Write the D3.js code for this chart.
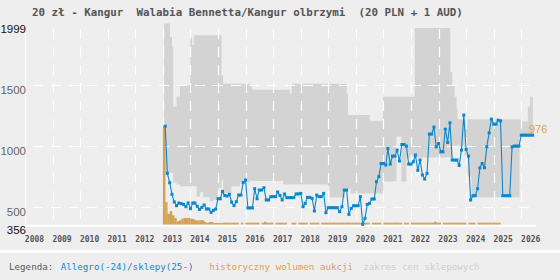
<!DOCTYPE html>
<html><head><meta charset="utf-8">
<script src="https://cdn.jsdelivr.net/npm/d3@7"></script>
<style>html,body{margin:0;padding:0;background:#eeeeee;}svg{display:block}</style>
</head><body>
<svg id="c" width="560" height="280"></svg>
<script>
// ---------- data ----------
const titleText = "20 zł - Kangur  Walabia Bennetta/Kangur olbrzymi  (20 PLN + 1 AUD)";
const yTickValues = [356, 500, 1000, 1500, 1999];
const yStrongTicks = [356, 1999];
const gridValues = [500, 1000, 1500];
const xYears = [2008,2009,2010,2011,2012,2013,2014,2015,2016,2017,2018,2019,2020,2021,2022,2023,2024,2025,2026];

// Allegro/shop price, monthly from 2013-02
const priceStart = [2013, 1];
const priceValues = [
  1161, 775, 699, 604, 542, 511, 533, 528, 522, 503, 533,
  487, 533, 533, 506, 481, 497, 517, 484, 484, 457, 473, 484,
  568, 568, 628, 595, 590, 604, 540, 511, 544, 598, 598, 700,
  721, 493, 493, 493, 650, 568, 639, 639, 658, 558, 558, 585,
  585, 585, 623, 595, 558, 607, 577, 577, 577, 577, 607, 607,
  612, 503, 530, 579, 579, 571, 468, 598, 585, 585, 612, 454,
  495, 495, 495, 495, 495, 462, 503, 639, 639, 440, 489, 511,
  511, 511, 585, 359, 408, 522, 530, 566, 566, 707, 748, 856,
  856, 843, 978, 851, 916, 916, 965, 876, 1011, 1011, 998, 851,
  851, 870, 925, 800, 884, 762, 729, 775, 1096, 1096, 1153, 992,
  1019, 951, 951, 1136, 1027, 1188, 884, 884, 884, 840, 965, 1251,
  970, 916, 558, 593, 593, 650, 820, 856, 821, 992, 1106, 1218,
  1177, 1177, 1210, 1204, 593, 593, 593, 593, 992, 998, 998, 998,
  1087, 1087, 1087, 1087, 1087, 1087
];

// historical auction volume, monthly from 2013-01 (relative units)
const volumeStart = [2013, 0];
const volumeValues = [
  99.4, 22.7, 11, 13.7, 9.5, 6.7, 3.4, 4.4, 6, 6.7, 6.7, 6.7,
  6, 5.5, 4.4, 4.4, 4.4, 4.4, 2.7, 1.7, 2.7, 2.7, 1.7, 1.7,
  1.7, 1.7, 2, 2, 2, 2, 2, 2, 2, 0, 2, 0,
  2, 2, 2, 2, 2, 2, 0, 2, 3, 2, 2, 2,
  0, 2, 2, 2, 2, 2, 0, 0, 2, 2, 0, 2,
  2, 2, 2, 0, 2, 2, 2, 2, 0, 2, 2, 2,
  2, 2, 2, 2, 2, 2, 2, 2, 2, 2, 2, 2,
  2, 2, 2, 2, 2, 2, 0, 2, 2, 2, 2, 0,
  2, 2, 2, 2, 2, 2, 2, 2, 0, 2, 2, 0,
  2, 2, 2, 2, 2, 2, 2, 2, 2, 2, 3, 2,
  2, 0, 2, 2, 2, 2, 2, 2, 2, 2, 2, 2,
  0, 2, 2, 2, 0, 2, 2, 2, 2, 2, 2, 2,
  2, 2, 2
];

// shop price range (step after each date)
const bandDates = [
  "2013-01-18","2013-04-04","2013-05-01","2013-05-17","2013-07-01","2013-08-14",
  "2014-01-01","2014-01-24","2014-02-15","2014-03-23","2014-05-06","2014-06-18",
  "2014-09-15","2014-10-28","2015-01-01","2015-02-17","2015-03-10","2015-06-28",
  "2015-10-17","2016-02-26","2016-03-20","2016-04-10","2017-05-12","2017-08-09",
  "2017-09-05","2018-12-28","2019-01-20","2019-08-07","2019-09-02","2019-09-19",
  "2019-10-25","2020-07-03","2020-12-27","2021-06-22","2021-08-27","2021-11-01",
  "2022-02-19","2023-06-06","2023-07-02","2023-08-02","2023-08-28","2023-09-10",
  "2023-12-12","2024-01-21","2024-03-14","2025-12-09","2026-01-01","2026-03-29",
  "2026-04-30","2026-06-04"
];
const bandHigh = [
  1999, 1890, 1810, 1321, 1402, 1495,
  1889, 1823, 1903, 1903, 1903, 1903,
  1903, 1903, 1903, 1577, 1508, 1508,
  1508, 1500, 1467, 1459, 1459, 1427,
  1508, 1508, 1508, 1508, 1427, 1252,
  1252, 1204, 1400, 1400, 1400, 1400,
  1962, 1600, 1495, 1400, 1304, 1218,
  1218, 1218, 1218, 1218, 1198, 1321,
  1402, 1402
];
const bandLow = [
  780, 780, 780, 700, 685, 669,
  669, 669, 669, 587, 620, 580,
  546, 560, 656, 723, 615, 669,
  700, 713, 713, 713, 685, 685,
  685, 670, 579, 650, 650, 650,
  610, 610, 709, 1076, 709, 905,
  905, 905, 1000, 1000, 1000, 1000,
  920, 750, 580, 1076, 1076, 1076,
  1076, 1076
];

const lastLabel = "976";
const legendLabels = ["Legenda:", "Allegro(-24)/sklepy(25-)", "historyczny wolumen aukcji", "zakres cen sklepowych"];
const legendColors = ["#555555", "#1088cc", "#d9a252", "#cfcfcf"];

// ---------- drawing ----------
const W = 560, H = 280;
const svg = d3.select("#c");
svg.append("rect").attr("width", W).attr("height", H).attr("fill", "#eeeeee");

const x = d3.scaleTime()
  .domain([new Date(2008, 0, 1), new Date(2026, 6, 15)])
  .range([25, 536]);
const y = d3.scaleLinear().domain([356, 1999]).range([224.7, 23.5]);
const vScale = d3.scaleLinear().domain([0, 100]).range([0, 99.4]);

const parse = d3.timeParse("%Y-%m-%d");
const band = bandDates.map((d, i) => ({date: parse(d), high: bandHigh[i], low: bandLow[i]}));

svg.append("path")
  .datum(band)
  .attr("fill", "#d3d3d3")
  .attr("d", d3.area().x(d => x(d.date)).y0(d => y(d.low)).y1(d => y(d.high)).curve(d3.curveStepAfter));

// gridlines
const grid = svg.append("g").attr("stroke", "#ffffff").attr("stroke-width", 1.2).attr("fill", "none");
grid.selectAll("line.v").data(xYears.slice(1)).enter().append("line")
  .attr("x1", d => Math.round(x(new Date(d, 0, 1))) + 0.5)
  .attr("x2", d => Math.round(x(new Date(d, 0, 1))) + 0.5)
  .attr("y1", 24).attr("y2", 224)
  .attr("stroke-dasharray", "10,8").attr("stroke-dashoffset", -5);
grid.selectAll("line.h").data(gridValues).enter().append("line")
  .attr("x1", 25).attr("x2", 536)
  .attr("y1", d => Math.round(y(d)) + 0.5).attr("y2", d => Math.round(y(d)) + 0.5)
  .attr("stroke-dasharray", "10,8").attr("stroke-dashoffset", -8);

// volume bars
const vol = volumeValues.map((v, i) => ({
  start: new Date(volumeStart[0], volumeStart[1] + i, 1),
  end: new Date(volumeStart[0], volumeStart[1] + i + 1, 1),
  v
})).filter(d => d.v > 0);
svg.append("g").attr("fill", "#d4a256").selectAll("rect").data(vol).enter().append("rect")
  .attr("x", d => x(d.start))
  .attr("width", d => x(d.end) - x(d.start) + 0.2)
  .attr("y", d => y(356) - vScale(d.v))
  .attr("height", d => vScale(d.v));

// axis lines
svg.append("line").attr("x1", 25.5).attr("x2", 25.5).attr("y1", 33).attr("y2", 226)
  .attr("stroke", "#fff").attr("stroke-width", 1.3);
svg.append("line").attr("x1", 25).attr("x2", 536).attr("y1", 225.7).attr("y2", 225.7)
  .attr("stroke", "#fff").attr("stroke-width", 2);

// price line
const price = priceValues.map((v, i) => ({date: new Date(priceStart[0], priceStart[1] + i, 1), v}));
svg.append("path").datum(price)
  .attr("fill", "none").attr("stroke", "#0a88cc").attr("stroke-width", 1.1)
  .attr("d", d3.line().x(d => x(d.date)).y(d => y(d.v)));
svg.append("g").attr("fill", "#0a88cc").selectAll("rect").data(price).enter().append("rect")
  .attr("x", d => x(d.date) - 1.5).attr("y", d => y(d.v) - 1.5)
  .attr("width", 3).attr("height", 3);

svg.append("text").attr("x", 529).attr("y", 133)
  .attr("font-family", "Liberation Sans, Arial, sans-serif").attr("font-size", 11)
  .attr("fill", "#d9a252").text(lastLabel);

// y axis labels
const yAxis = d3.axisLeft(y).tickValues(yTickValues).tickSize(0).tickPadding(-1).tickFormat(d3.format("d"));
const ya = svg.append("g").attr("transform", "translate(25,0)").call(yAxis);
ya.select(".domain").remove();
ya.selectAll("text")
  .attr("dy", "0.74em")
  .attr("font-family", "Liberation Sans, Arial, sans-serif").attr("font-size", 11.5)
  .attr("fill", d => yStrongTicks.includes(d) ? "#111" : "#666");

// x axis labels
const xAxis = d3.axisBottom(x)
  .tickValues(xYears.map(yr => new Date(yr, 3, 29)))
  .tickSize(0).tickPadding(11.6).tickFormat(d3.timeFormat("%Y"));
const xa = svg.append("g").attr("transform", "translate(0,224.7)").call(xAxis);
xa.select(".domain").remove();
xa.selectAll("text")
  .attr("font-family", "DejaVu Sans Mono, monospace").attr("font-size", 8).attr("font-weight", "bold")
  .attr("fill", "#555");

// title
svg.append("text").attr("x", 32).attr("y", 16)
  .attr("xml:space", "preserve").style("white-space", "pre")
  .attr("font-family", "DejaVu Sans Mono, monospace").attr("font-size", 10.85)
  .attr("font-weight", "bold")
  .attr("fill", "#555").text(titleText);

// legend separator + legend
svg.append("line").attr("x1", 0).attr("x2", W).attr("y1", 251.3).attr("y2", 251.3)
  .attr("stroke", "#fff").attr("stroke-width", 3);
const legendX = [9, 60.7, 209.3, 363.3];
svg.append("g").selectAll("text").data(legendLabels).enter().append("text")
  .attr("x", (d, i) => legendX[i]).attr("y", 270)
  .attr("font-family", "DejaVu Sans Mono, monospace").attr("font-size", 9.2)
  .attr("fill", (d, i) => legendColors[i]).text(d => d);
</script>
</body></html>
